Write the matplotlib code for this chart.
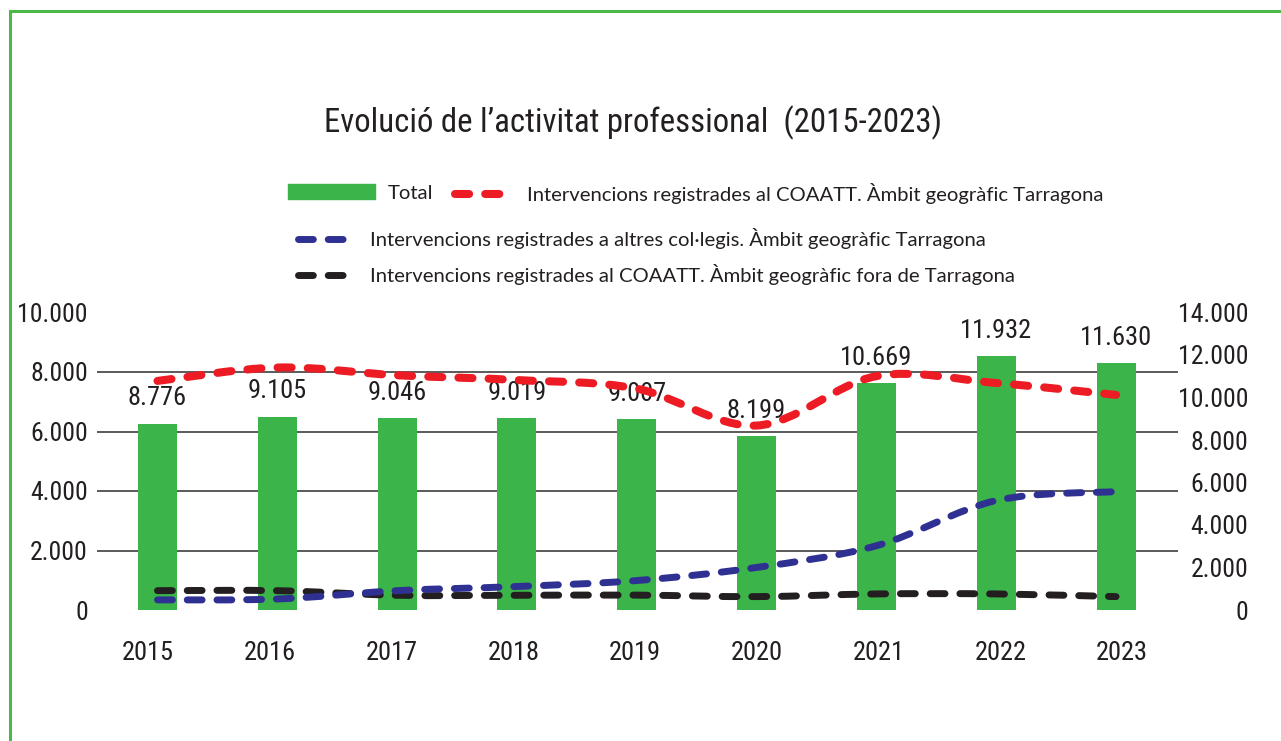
import numpy as np
import matplotlib
matplotlib.use("Agg")
import matplotlib.pyplot as plt
from matplotlib import font_manager
from matplotlib.font_manager import FontProperties
from matplotlib.path import Path
from matplotlib.patches import PathPatch, Rectangle, Patch
from matplotlib.lines import Line2D

# dades
anys = ["2015", "2016", "2017", "2018", "2019", "2020", "2021", "2022", "2023"]
total = [8776, 9105, 9046, 9019, 9007, 8199, 10669, 11932, 11630]
coaatt_tgn = [7700, 8150, 7890, 7730, 7440, 6200, 7860, 7630, 7230]
altres_tgn = [340, 370, 650, 790, 990, 1430, 2160, 3680, 3980]
coaatt_fora = [650, 650, 495, 495, 500, 450, 540, 540, 450]

# busquem una lletra estreta
fitxers = [f.fname for f in font_manager.fontManager.ttflist]
preferits = ["robotocondensed-regular", "notosans-condensed.", "notosans-condensedregular",
             "dejavusanscondensed.", "opensans-condensedregular", "opensans_condensed-regular",
             "liberationsansnarrow-regular", "notosans-semicondensed.", "roboto-regular", "lato-regular"]
cami = None
for p in preferits:
    for f in fitxers:
        if p in f.lower().replace(" ", ""):
            cami = f
            break
    if cami:
        break


def fp(size):
    if cami:
        return FontProperties(fname=cami, size=size)
    return FontProperties(family="DejaVu Sans", stretch="condensed", size=size)


noms = {f.name for f in font_manager.fontManager.ttflist}
normal = "Lato" if "Lato" in noms else "DejaVu Sans"

verd = "#3bb54a"
vermell = "#ed1c24"
blau = "#2e3192"
negre = "#231f20"
gris = "#231f20"


def fmt(v):
    return "{:,}".format(v).replace(",", ".")


def corba(xs, ys):
    # corba suau (catmull-rom) com a bezier
    p = np.column_stack([xs, ys]).astype(float)
    n = len(p)
    verts = [p[0]]
    codes = [Path.MOVETO]
    for i in range(n - 1):
        p0 = p[max(i - 1, 0)]
        p1 = p[i]
        p2 = p[i + 1]
        p3 = p[min(i + 2, n - 1)]
        verts += [p1 + (p2 - p0) / 6, p2 - (p3 - p1) / 6, p2]
        codes += [Path.CURVE4] * 3
    return Path(verts, codes)


fig = plt.figure(figsize=(12.81, 7.41), dpi=100)
ax = fig.add_axes([97 / 1281, 131 / 741, 1081 / 1281, 297.5 / 741])
ax2 = ax.twinx()

x = np.arange(len(anys))

# barres (escala dreta)
ax.bar(x, total, width=0.326, color=verd, zorder=2)
for xi, v in zip(x, total):
    ax.annotate(fmt(v), (xi, v), xytext=(0, 13), textcoords="offset points",
                ha="center", va="baseline", fontproperties=fp(19), color=gris)

ax.set_xlim(-0.505, 8.517)
ax.set_ylim(0, 14000)
ax.yaxis.tick_right()
ax.set_yticks(np.arange(0, 14001, 2000), labels=[fmt(v) for v in range(0, 14001, 2000)],
              ha="right", fontproperties=fp(18.5), color=gris)
ax.tick_params(axis="y", which="major", length=0, pad=50.4)
ax.set_yticks(np.arange(0, 14001, 2800), minor=True)
ax.tick_params(axis="y", which="minor", length=0)
ax.grid(True, axis="y", which="minor", color="#4d4d4d", lw=1.3, zorder=0)
ax.set_axisbelow(True)
ax.set_xticks(x * 1.0163 - 0.079, labels=anys, fontproperties=fp(19), color=gris)
ax.tick_params(axis="x", length=0, pad=22)
for s in ax.spines.values():
    s.set_visible(False)

# linies (escala esquerra)
ax2.set_ylim(0, 10000)
ax2.yaxis.tick_left()
ax2.set_yticks(np.arange(0, 10001, 2000), labels=[fmt(v) for v in range(0, 10001, 2000)],
               fontproperties=fp(18.5), color=gris)
ax2.tick_params(axis="y", length=0, pad=6.5)
for s in ax2.spines.values():
    s.set_visible(False)

series = [
    (coaatt_fora, negre, 5.0, (2.14, 2.14)),
    (altres_tgn, blau, 5.0, (2.14, 2.14)),
    (coaatt_tgn, vermell, 5.8, (1.75, 2.0)),
]
for ys, col, lw, dash in series:
    pp = PathPatch(corba(x, ys), fill=False, edgecolor=col, lw=lw,
                   linestyle=(0, dash), capstyle="round", joinstyle="round", zorder=3)
    ax2.add_patch(pp)

# llegendes
h_total = Patch(color=verd)
h_verm = Line2D([], [], color=vermell, lw=5.8, linestyle=(0, (1.75, 2.0)), dash_capstyle="round")
h_blau = Line2D([], [], color=blau, lw=5.0, linestyle=(0, (2.14, 2.14)), dash_capstyle="round")
h_negre = Line2D([], [], color=negre, lw=5.0, linestyle=(0, (2.14, 2.14)), dash_capstyle="round")
lprops = dict(family=normal, size=14.6)

fig.legend([h_total], ["Total"], loc="center left", bbox_to_anchor=(288 / 1281, 1 - 193 / 741),
           frameon=False, borderpad=0, borderaxespad=0, handlelength=4.3, handleheight=0.7,
           handletextpad=0.6, prop=lprops, labelcolor=gris)
fig.legend([h_verm], ["Intervencions registrades al COAATT. Àmbit geogràfic Tarragona"],
           loc="center left", bbox_to_anchor=(455 / 1281, 1 - 194 / 741),
           frameon=False, borderpad=0, borderaxespad=0, handlelength=2.6,
           handletextpad=0.95, prop=lprops, labelcolor=gris)
fig.legend([h_blau, h_negre],
           ["Intervencions registrades a altres col·legis. Àmbit geogràfic Tarragona",
            "Intervencions registrades al COAATT. Àmbit geogràfic fora de Tarragona"],
           loc="center left", bbox_to_anchor=(298 / 1281, 1 - 256.5 / 741),
           frameon=False, borderpad=0, borderaxespad=0, handlelength=2.6,
           handletextpad=0.95, labelspacing=0.75, prop=lprops, labelcolor=gris)

fig.text(633 / 1281, 1 - 132 / 741, "Evolució de l’activitat professional  (2015-2023)",
         ha="center", va="baseline", fontproperties=fp(23.6), color=gris)

# marc verd
fig.add_artist(Rectangle((9.5 / 1281, -0.1), 1.2, 1.1 - 11.5 / 741,
                         transform=fig.transFigure, fill=False, edgecolor="#4db848", lw=2.2,
                         clip_on=False))

fig.savefig("out.png", dpi=100)
